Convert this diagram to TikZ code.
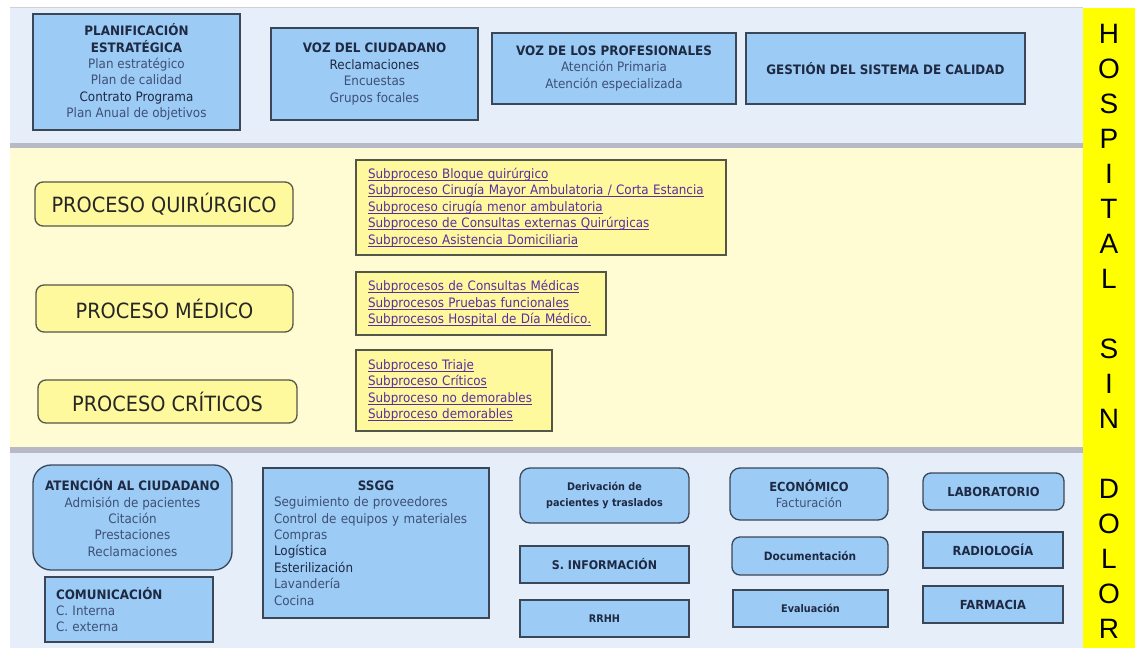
\documentclass[tikz,border=0pt]{standalone}
\usepackage{fontspec}
\setmainfont{DejaVu Sans}[FakeStretch=0.92]
\newfontfamily\arialf{Liberation Sans}
\definecolor{bandblue}{HTML}{E6EEF9}
\definecolor{bandyel}{HTML}{FFFBD3}
\definecolor{sepgray}{HTML}{B7BAC6}
\definecolor{boxblue}{HTML}{9CCBF6}
\definecolor{boxline}{HTML}{3B4656}
\definecolor{titlec}{HTML}{1E2942}
\definecolor{txtc}{HTML}{3E5075}
\definecolor{procfill}{HTML}{FFF99E}
\definecolor{procline}{HTML}{55564A}
\definecolor{linkc}{HTML}{5B2E9E}
\definecolor{stripy}{HTML}{FFFF00}
\newcommand\fs[1]{\fontsize{#1}{16.4}\selectfont}
\newcommand\ttl[1]{{\bfseries\color{titlec}#1}}
\newcommand\dk[1]{{\color{titlec}#1}}
\newsavebox\lkbox
\newcommand\lk[1]{\sbox\lkbox{#1}\usebox\lkbox\llap{\rule[-2.2pt]{\wd\lkbox}{0.7pt}}}
\tikzset{
  bluebox/.style={draw=boxline, line width=1.3pt, fill=boxblue, inner sep=0pt,
    align=center, text=txtc, font=\fs{13}},
  bluer/.style={bluebox, rounded corners=8pt},
  procbox/.style={draw=procline, line width=1.3pt, fill=procfill, rounded corners=8pt,
    inner sep=0pt, font=\fontsize{21}{24}\selectfont, text=black!85},
  subbox/.style={draw=procline, line width=1.3pt, fill=procfill, inner xsep=12pt,
    inner ysep=0pt, align=left, text=linkc, font=\fs{13}},
  stripletters/.style={font=\arialf\fontsize{28}{35}\selectfont, align=center, inner sep=0pt}
}
\begin{document}
\begin{tikzpicture}[x=1pt,y=-1pt]
\useasboundingbox (0,0) rectangle (1135,648);
% bands
\fill[white] (0,0) rectangle (1135,648);
\fill[bandblue] (10,7) rectangle (1083,143);
\draw[gray!35, line width=1pt] (10,7) -- (1083,7);
\fill[sepgray] (10,143) rectangle (1083,148);
\fill[bandyel] (10,148) rectangle (1083,447);
\fill[sepgray] (10,447) rectangle (1083,453);
\fill[bandblue] (10,453) rectangle (1083,648);
\fill[stripy] (1083,8) rectangle (1135,648);
\node[stripletters] (hsd) at (1109,331.5) {H\\O\\S\\P\\I\\T\\A\\L\\[35pt]S\\I\\N\\[35pt]D\\O\\L\\O\\R};
% top band
\node[bluebox, minimum width=207, minimum height=116] (plan) at (136.5,72)
  {\ttl{PLANIFICACIÓN}\\\ttl{ESTRATÉGICA}\\Plan estratégico\\Plan de calidad\\\dk{Contrato Programa}\\Plan Anual de objetivos};
\node[bluebox, minimum width=207, minimum height=92] (vozc) at (374.5,74)
  {\ttl{VOZ DEL CIUDADANO}\\\dk{Reclamaciones}\\Encuestas\\Grupos focales};
\node[bluebox, minimum width=244, minimum height=71] (vozp) at (614,68.5)
  {\ttl{VOZ DE LOS PROFESIONALES}\\Atención Primaria\\Atención especializada};
\node[bluebox, minimum width=279, minimum height=71] (gest) at (885.5,68.5)
  {\ttl{GESTIÓN DEL SISTEMA DE CALIDAD}};
% middle band
\node[procbox, minimum width=258, minimum height=44] (pq) at (164,204) {PROCESO QUIRÚRGICO};
\node[procbox, minimum width=257, minimum height=47] (pm) at (164.5,308.5) {PROCESO MÉDICO};
\node[procbox, minimum width=259, minimum height=43] (pc) at (167.5,401.5) {PROCESO CRÍTICOS};
\node[subbox, text width=346, minimum height=95] (s1) at (541,207.5)
  {\lk{Subproceso Bloque quirúrgico}\\\lk{Subproceso Cirugía Mayor Ambulatoria / Corta Estancia}\\\lk{Subproceso cirugía menor ambulatoria}\\\lk{Subproceso de Consultas externas Quirúrgicas}\\\lk{Subproceso Asistencia Domiciliaria}};
\node[subbox, text width=226, minimum height=63] (s2) at (481,303.5)
  {\lk{Subprocesos de Consultas Médicas}\\\lk{Subprocesos Pruebas funcionales}\\\lk{Subprocesos Hospital de Día Médico.}};
\node[subbox, text width=172, minimum height=81] (s3) at (454,390.5)
  {\lk{Subproceso Triaje}\\\lk{Subproceso Críticos}\\\lk{Subproceso no demorables}\\\lk{Subproceso demorables}};
% bottom band
\node[bluebox, rounded corners=18pt, minimum width=199, minimum height=105] (aten) at (132.5,517.5)
  {\ttl{ATENCIÓN AL CIUDADANO}\\Admisión de pacientes\\Citación\\Prestaciones\\Reclamaciones};
\node[bluebox, align=left, text width=146, inner xsep=11pt, minimum height=65] (comu) at (129,609.5)
  {\ttl{COMUNICACIÓN}\\C. Interna\\C. externa};
\node[bluebox, align=left, text width=204, inner xsep=11pt, minimum height=150] (ssgg) at (376,543)
  {\makebox[204pt]{\ttl{SSGG}}\\Seguimiento de proveedores\\Control de equipos y materiales\\Compras\\\dk{Logística}\\\dk{Esterilización}\\Lavandería\\Cocina};
\node[bluer, rounded corners=10pt, minimum width=169, minimum height=55, font=\fontsize{10.5}{16}\selectfont] (deriv) at (604.5,495.5)
  {\ttl{Derivación de}\\\ttl{pacientes y traslados}};
\node[bluebox, minimum width=169, minimum height=37, font=\fs{12}] (sinf) at (604.5,564.5) {\ttl{S. INFORMACIÓN}};
\node[bluebox, minimum width=169, minimum height=37, font=\fs{10.5}] (rrhh) at (604.5,618.5) {\ttl{RRHH}};
\node[bluer, rounded corners=10pt, minimum width=158, minimum height=52, font=\fs{12.5}] (econ) at (809,494)
  {\ttl{ECONÓMICO}\\Facturación};
\node[bluer, minimum width=156, minimum height=38, font=\fs{11.5}] (docu) at (810,556) {\ttl{Documentación}};
\node[bluebox, minimum width=155, minimum height=37, font=\fs{10.5}] (eval) at (810.5,608.5) {\ttl{Evaluación}};
\node[bluer, minimum width=141, minimum height=37, font=\fs{12.5}] (lab) at (993.5,491.5) {\ttl{LABORATORIO}};
\node[bluebox, minimum width=140, minimum height=36, font=\fs{12.5}] (rad) at (993,550) {\ttl{RADIOLOGÍA}};
\node[bluebox, minimum width=140, minimum height=37, font=\fs{12.5}] (farm) at (993,604.5) {\ttl{FARMACIA}};
\end{tikzpicture}
\end{document}
